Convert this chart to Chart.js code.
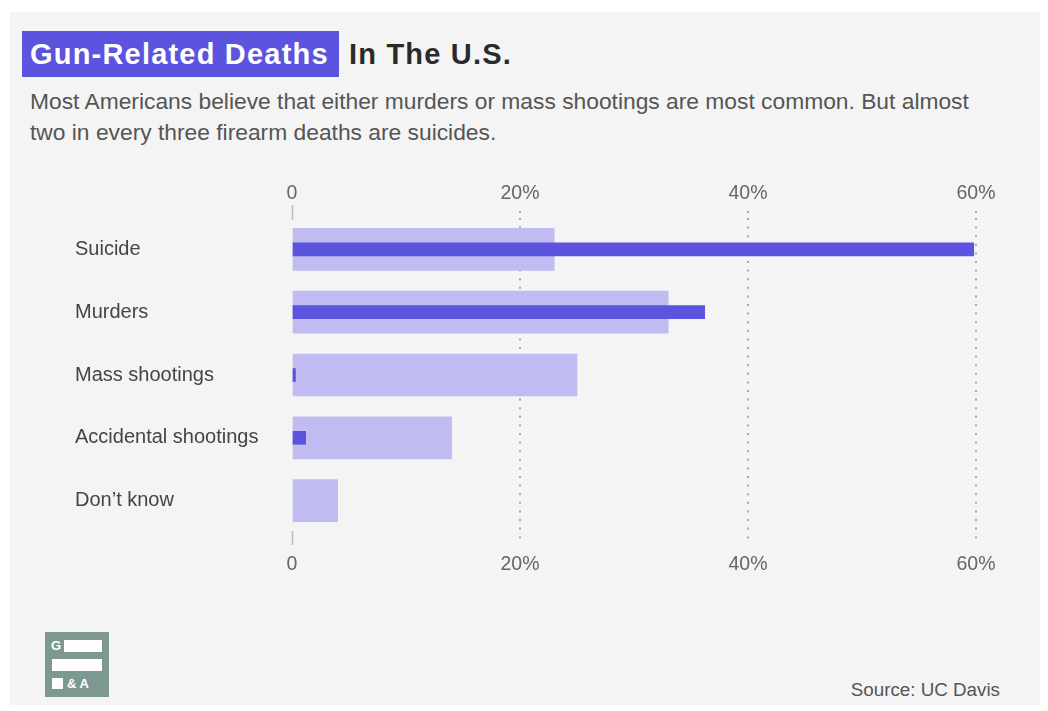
<!DOCTYPE html>
<html>
<head>
<meta charset="utf-8">
<script src="https://cdn.jsdelivr.net/npm/chart.js@4"></script>
<style>
  html, body { margin: 0; padding: 0; background: #fff; }
  body { width: 1048px; height: 711px; position: relative; overflow: hidden; font-family: "Liberation Sans", Arial, Helvetica, sans-serif; }
  #panel { position: absolute; left: 10px; top: 12px; width: 1030px; height: 693px; background: #f4f4f4; }
  #title { position: absolute; left: 22px; top: 31px; height: 46px; line-height: 46px; font-size: 29px; font-weight: bold; letter-spacing: 1.2px; color: #2a2a2a; white-space: nowrap; }
  #title .hl { display: inline-block; background: #5c54de; color: #fff; padding: 0 10px 0 8px; margin-right: 1px; }
  #subtitle { position: absolute; left: 30px; top: 86px; width: 955px; font-size: 22.8px; line-height: 31px; color: #555; }
  #wrap { position: absolute; left: 75px; top: 170px; width: 935px; height: 420px; }
  #logo { position: absolute; left: 45px; top: 632px; width: 64px; height: 65px; background: #7d9791; }
  #logo div { position: absolute; background: #fff; }
  #logo span { position: absolute; color: #fff; font-weight: bold; font-size: 13px; line-height: 14px; }
  #source { position: absolute; right: 48px; top: 679px; font-size: 18.8px; color: #555; }
</style>
</head>
<body>
<div id="panel"></div>
<div id="title"><span class="hl">Gun-Related Deaths</span> In The U.S.</div>
<div id="subtitle">Most Americans believe that either murders or mass shootings are most common. But almost two in every three firearm deaths are suicides.</div>
<div id="wrap"><canvas id="chart"></canvas></div>
<div id="logo">
  <span style="left:6px;top:7px;">G</span>
  <div style="left:19px;top:8px;width:38px;height:12px;"></div>
  <div style="left:7px;top:27px;width:50px;height:12px;"></div>
  <div style="left:7px;top:46px;width:11px;height:11px;"></div>
  <span style="left:22px;top:45px;">&amp; A</span>
</div>
<div id="source">Source: UC Davis</div>

<script>
const categories = ["Suicide", "Murders", "Mass shootings", "Accidental shootings", "Don\u2019t know"];
// what people believe is most common (share of respondents, %)
const perceivedShare = [23, 33, 25, 14, 4];
// actual share of firearm deaths (%)
const actualShare = [59.8, 36.2, 0.3, 1.2, 0];
const xTicks = [0, 20, 40, 60];

const LIGHT = "#c0bbf1";
const DARK = "#5c54de";
const GRID = "#a8a8a8";
const FONT = "'Liberation Sans', Arial, sans-serif";

function tickLabel(value) {
  return value === 0 ? "0" : `${value}%`;
}

function gridColor(ctx) {
  return ctx.tick && ctx.tick.value === 0 ? "rgba(0,0,0,0)" : GRID;
}

// short solid stubs above and below the bars at the zero line
const zeroStubs = {
  id: "zeroStubs",
  afterDraw(chart) {
    const { ctx, chartArea, scales } = chart;
    const x = Math.round(scales.x.getPixelForValue(0)) + 0.5;
    ctx.save();
    ctx.strokeStyle = "#bdbdbd";
    ctx.lineWidth = 1.5;
    ctx.beginPath();
    ctx.moveTo(x, chartArea.top - 13);
    ctx.lineTo(x, chartArea.top + 2);
    ctx.moveTo(x, chartArea.bottom - 1);
    ctx.lineTo(x, chartArea.bottom + 13);
    ctx.stroke();
    ctx.restore();
  },
};

const xScaleBase = {
  type: "linear",
  min: xTicks[0],
  max: xTicks[xTicks.length - 1],
  afterBuildTicks: (scale) => {
    scale.ticks = xTicks.map((value) => ({ value }));
  },
  border: { display: false, dash: [2, 6.6] },
  ticks: {
    color: "#666",
    font: { family: FONT, size: 19.5 },
    callback: (value) => tickLabel(value),
    maxRotation: 0,
  },
};

new Chart(document.getElementById("chart"), {
  type: "bar",
  data: {
    labels: categories,
    datasets: [
      {
        label: "Believed most common",
        data: perceivedShare,
        backgroundColor: LIGHT,
        barThickness: 42,
        grouped: false,
        order: 2,
        xAxisID: "x",
      },
      {
        label: "Actual share of deaths",
        data: actualShare,
        backgroundColor: (ctx) => (ctx.raw ? DARK : "rgba(0,0,0,0)"),
        barThickness: 13,
        grouped: false,
        order: 1,
        xAxisID: "x",
      },
    ],
  },
  options: {
    indexAxis: "y",
    responsive: true,
    maintainAspectRatio: false,
    animation: false,
    layout: { padding: { left: 0, right: 34, top: 0, bottom: 0 } },
    plugins: {
      legend: { display: false },
      tooltip: { enabled: false },
    },
    scales: {
      xTop: {
        ...xScaleBase,
        position: "top",
        afterFit: (scale) => { scale.height = 48; },
        grid: {
          color: gridColor,
          tickColor: gridColor,
          lineWidth: 2,
          tickWidth: 2,
          tickLength: 7,
          tickBorderDash: [2, 6.6],
        },
        ticks: { ...xScaleBase.ticks, padding: 6 },
      },
      x: {
        ...xScaleBase,
        position: "bottom",
        afterFit: (scale) => { scale.height = 58; },
        grid: {
          drawOnChartArea: false,
          color: gridColor,
          tickColor: gridColor,
          lineWidth: 2,
          tickWidth: 2,
          tickLength: 11,
          tickBorderDash: [2, 6.6],
          tickBorderDashOffset: 4,
        },
        ticks: { ...xScaleBase.ticks, padding: 10 },
      },
      y: {
        type: "category",
        position: "left",
        afterFit: (scale) => { scale.width = 217; },
        grid: { display: false },
        border: { display: false },
        ticks: {
          color: "#444",
          crossAlign: "far",
          padding: 0,
          font: { family: FONT, size: 20 },
        },
      },
    },
  },
  plugins: [zeroStubs],
});
</script>
</body>
</html>
